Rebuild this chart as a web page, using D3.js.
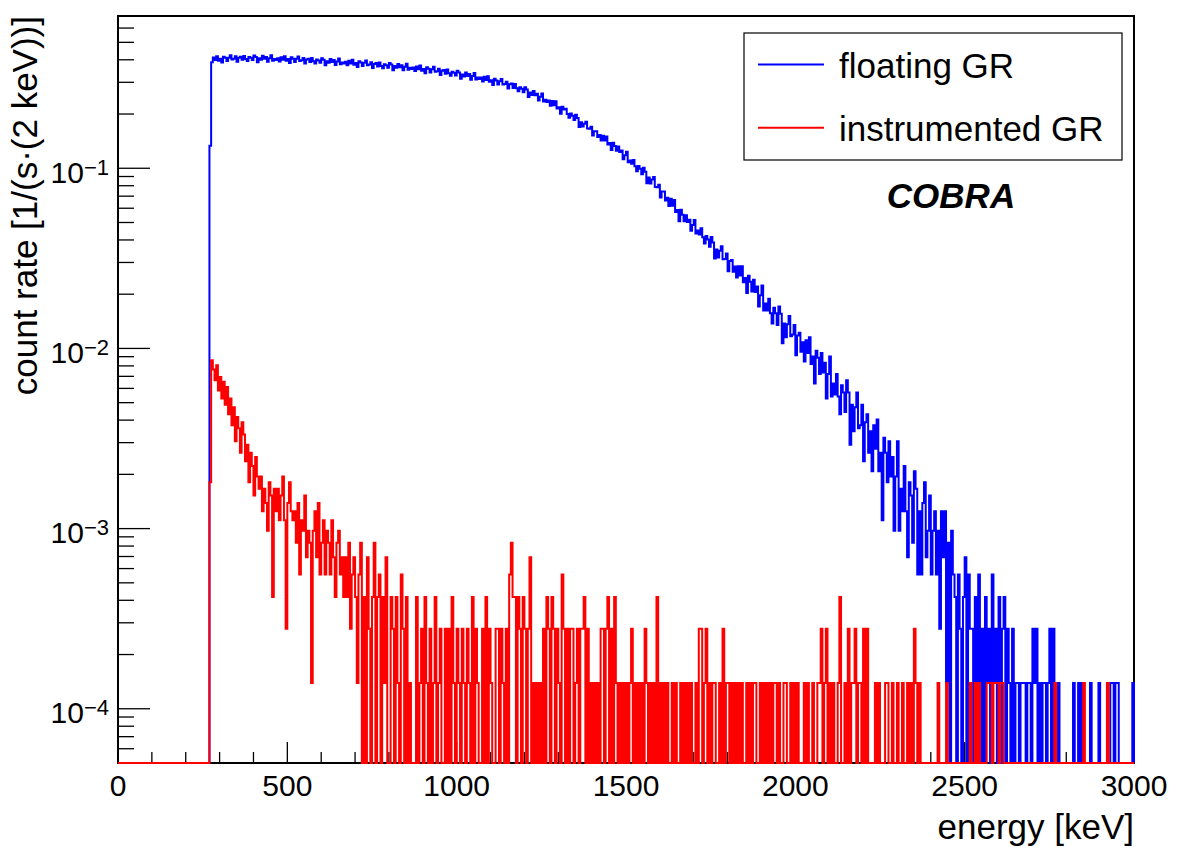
<!DOCTYPE html>
<html>
<head>
<meta charset="utf-8">
<script src="https://cdn.jsdelivr.net/npm/d3@7"></script>
<style>
  html, body { margin: 0; padding: 0; background: #ffffff; }
  svg { display: block; }
  text { font-family: "Liberation Sans", Arial, Helvetica, sans-serif; fill: #000; }
</style>
</head>
<body>
<svg id="chart" width="1182" height="848"></svg>
<script>
// ---------------- data ----------------
const energyStart = 270;   // keV, low edge of the first filled bin
const binWidth = 5;        // keV per drawn bin
const exposure = 7200;     // s; rate per 2 keV = counts / exposure

// counts per 2 keV bin, one value per 5 keV step starting at 270 keV (rows = 50 keV)
const floatingGR = [
  960, 2794, 2964, 2876, 3018, 2847, 2915, 2781, 2997, 2955,
  2838, 2959, 3052, 2887, 2916, 3009, 2812, 2960, 2997, 2879,
  3027, 2907, 2834, 2980, 2952, 2869, 3042, 2986, 2793, 2939,
  2883, 3028, 2918, 2985, 2809, 2935, 3053, 2841, 2913, 2874,
  2937, 2815, 2979, 2882, 3016, 2843, 2905, 2761, 2971, 2923,
  2800, 2917, 3006, 2837, 2862, 2951, 2745, 2890, 2923, 2801,
  2945, 2823, 2746, 2889, 2857, 2772, 2941, 2884, 2689, 2831,
  2773, 2913, 2801, 2869, 2694, 2816, 2929, 2718, 2786, 2746,
  2805, 2684, 2842, 2748, 2879, 2704, 2763, 2624, 2827, 2778,
  2658, 2769, 2854, 2688, 2711, 2795, 2595, 2733, 2764, 2644,
  2780, 2661, 2585, 2721, 2690, 2605, 2768, 2710, 2520, 2656,
  2598, 2733, 2622, 2687, 2516, 2632, 2740, 2534, 2598, 2558,
  2613, 2495, 2644, 2552, 2675, 2505, 2560, 2425, 2616, 2567,
  2450, 2554, 2632, 2472, 2490, 2569, 2374, 2504, 2531, 2413,
  2540, 2422, 2347, 2472, 2439, 2354, 2506, 2446, 2262, 2387,
  2329, 2451, 2343, 2399, 2234, 2339, 2436, 2238, 2294, 2252,
  2299, 2184, 2318, 2227, 2337, 2174, 2220, 2089, 2263, 2212,
  2099, 2187, 2253, 2100, 2111, 2176, 1993, 2104, 2124, 2009,
  2116, 2002, 1924, 2028, 1988, 1903, 2029, 1967, 1792, 1896,
  1835, 1932, 1828, 1867, 1713, 1795, 1871, 1688, 1727, 1680,
  1709, 1600, 1701, 1612, 1693, 1543, 1570, 1447, 1582, 1527,
  1541, 1441, 1371, 1448, 1408, 1332, 1427, 1370, 1221, 1297,
  1227, 1272, 1303, 1195, 1192, 1222, 1096, 1156, 1157, 1075,
  1101, 1025, 1090, 1028, 1080, 977, 993, 908, 996, 956,
  901, 951, 886, 903, 809, 850, 888, 777, 794, 762,
  801, 738, 693, 740, 715, 666, 725, 688, 594, 640,
  592, 623, 643, 567, 564, 584, 495, 535, 535, 477,
  494, 444, 487, 446, 480, 412, 422, 366, 424, 398,
  366, 395, 362, 373, 324, 349, 372, 313, 325, 309,
  334, 298, 275, 303, 290, 264, 299, 279, 227, 255,
  230, 251, 266, 225, 226, 242, 193, 220, 223, 192,
  205, 178, 206, 183, 206, 168, 177, 146, 182, 169,
  149, 173, 148, 159, 123, 142, 161, 117, 128, 117,
  136, 113, 99, 121, 113, 97, 123, 112, 77, 99,
  83, 98, 109, 84, 86, 97, 66, 85, 88, 69,
  78, 61, 80, 68, 83, 59, 65, 46, 70, 64,
  52, 68, 53, 60, 38, 52, 65, 39, 46, 40,
  52, 39, 31, 45, 41, 32, 48, 41, 21, 35,
  25, 34, 41, 26, 27, 35, 17, 28, 31, 19,
  25, 15, 27, 20, 29, 15, 19, 8, 23, 19,
  13, 22, 14, 18, 7, 14, 22, 7, 12, 9,
  16, 9, 5, 13, 11, 6, 15, 12, 4, 9,
  4, 10, 13, 5, 7, 11, 4, 7, 9, 4,
  7, 2, 9, 5, 9, 1, 6, 0, 7, 4,
  3, 0, 4, 2, 0, 3, 5, 0, 4, 2,
  2, 0, 3, 1, 4, 0, 2, 0, 3, 1,
  2, 0, 4, 1, 2, 0, 3, 0, 2, 3,
  0, 2, 1, 0, 2, 0, 1, 1, 0, 1,
  1, 1, 0, 1, 1, 0, 2, 1, 2, 0,
  1, 0, 1, 1, 0, 1, 2, 0, 2, 0,
  0, 1, 0, 0, 0, 0, 0, 0, 0, 0,
  1, 0, 0, 1, 0, 1, 0, 0, 0, 0,
  1, 0, 0, 0, 0, 1, 0, 0, 0, 0,
  0, 0, 1, 1, 0, 1, 1, 0, 0, 0,
  0, 0, 0, 0, 0, 1
];

const instrumentedGR = [
  13, 62, 55, 48, 58, 42, 50, 38, 47, 35,
  44, 31, 38, 27, 34, 22, 30, 26, 19, 28,
  24, 17, 21, 13, 19, 16, 11, 18, 14, 12,
  14, 9, 12, 10, 7, 13, 11, 3, 12, 9,
  12, 8, 11, 14, 8, 2, 10, 13, 9, 8,
  9, 6, 10, 4, 8, 7, 11, 5, 7, 6,
  1, 7, 9, 5, 10, 4, 6, 8, 4, 7,
  6, 4, 8, 5, 3, 6, 7, 4, 5, 3,
  5, 3, 6, 2, 4, 5, 3, 1, 4, 6,
  0, 3, 0, 5, 2, 0, 3, 6, 0, 3,
  4, 0, 3, 1, 5, 0, 0, 3, 2, 0,
  3, 1, 0, 4, 2, 0, 3, 0, 1, 0,
  0, 0, 3, 0, 1, 2, 0, 3, 1, 0,
  2, 0, 1, 3, 0, 1, 2, 0, 0, 2,
  0, 2, 0, 3, 1, 0, 2, 1, 0, 2,
  1, 0, 2, 1, 0, 3, 0, 2, 1, 0,
  0, 2, 0, 3, 0, 2, 1, 0, 0, 2,
  2, 0, 2, 1, 0, 2, 0, 4, 6, 3,
  3, 0, 3, 2, 0, 3, 2, 0, 2, 5,
  0, 1, 0, 1, 0, 1, 0, 2, 0, 3,
  2, 0, 3, 2, 0, 2, 1, 0, 4, 2,
  0, 2, 0, 2, 2, 0, 1, 2, 0, 2,
  2, 3, 0, 2, 0, 1, 0, 1, 0, 1,
  0, 2, 2, 0, 2, 3, 0, 2, 0, 3,
  1, 0, 1, 0, 1, 0, 1, 0, 1, 2,
  0, 1, 0, 1, 0, 1, 0, 2, 1, 0,
  1, 0, 1, 0, 3, 0, 1, 0, 1, 0,
  1, 0, 0, 1, 0, 1, 0, 0, 1, 0,
  1, 0, 1, 0, 1, 0, 0, 1, 0, 2,
  2, 0, 1, 2, 0, 1, 0, 1, 1, 0,
  0, 1, 0, 2, 0, 1, 1, 0, 1, 0,
  1, 0, 1, 0, 1, 0, 0, 1, 0, 1,
  0, 1, 1, 0, 0, 1, 0, 1, 0, 1,
  0, 1, 0, 1, 1, 0, 1, 0, 0, 1,
  1, 0, 0, 1, 0, 1, 0, 1, 0, 0,
  0, 1, 0, 1, 0, 0, 1, 0, 0, 1,
  1, 2, 0, 1, 2, 0, 1, 0, 1, 0,
  0, 1, 3, 0, 0, 1, 0, 2, 0, 1,
  1, 2, 0, 1, 1, 0, 2, 0, 2, 0,
  0, 0, 0, 1, 0, 1, 0, 0, 0, 1,
  1, 0, 0, 1, 0, 0, 1, 0, 0, 1,
  0, 0, 1, 0, 1, 0, 2, 1, 0, 1,
  0, 0, 0, 0, 0, 0, 0, 0, 0, 0,
  1, 0, 0, 0, 0, 1, 0, 0, 0, 0,
  0, 0, 0, 0, 0, 0, 0, 0, 0, 1,
  0, 0, 1, 0, 1, 0, 0, 0, 0, 1,
  1, 1, 0, 1, 1, 1, 0, 1, 1, 0,
  0, 0, 0, 0, 0, 0, 0, 0, 0, 0,
  0, 0, 0, 0, 0, 0, 0, 0, 0, 0,
  0, 0, 0, 0, 0, 0, 0, 0, 0, 1,
  0, 0, 0, 0, 0, 0, 0, 0, 0, 0,
  0, 0, 0, 0, 0, 0, 1, 0, 0, 0,
  0, 0, 0, 0, 0, 0, 0, 0, 0, 0,
  1, 0, 0, 0, 0, 0, 0, 0, 0, 0,
  0, 0, 0, 0, 0, 0
];

const xTickValues = [0, 500, 1000, 1500, 2000, 2500, 3000];
const yDecades = [-1, -2, -3, -4];
const legendLabels = ["floating GR", "instrumented GR"];
const xTitle = "energy [keV]";
const yTitle = "count rate [1/(s\u00B7(2 keV))]";
const tagText = "COBRA";

// ---------------- drawing ----------------
const L = 118, R = 1134, T = 16, B = 763;
const svg = d3.select("#chart");

const x = d3.scaleLinear().domain([0, 3000]).range([L, R]);
const y = d3.scaleLog().domain([5e-5, 0.7]).range([B, T]);

// frame
svg.append("rect")
  .attr("x", L).attr("y", T).attr("width", R - L).attr("height", B - T)
  .attr("fill", "none").attr("stroke", "#000").attr("stroke-width", 2);

// x ticks (major every 500, minor every 100), pointing up into the frame
const xMinorVals = d3.range(0, 3001, 100);
svg.append("g").selectAll("line").data(xMinorVals).join("line")
  .attr("x1", d => x(d)).attr("x2", d => x(d))
  .attr("y1", B).attr("y2", d => B - (xTickValues.includes(d) ? 21 : 11))
  .attr("stroke", "#000").attr("stroke-width", 1.3);

svg.append("g").selectAll("text").data(xTickValues).join("text")
  .attr("x", d => x(d)).attr("y", 796)
  .attr("text-anchor", "middle").attr("font-size", 30)
  .text(d => d);

// y ticks (log)
const yTickVals = [];
for (let e = -5; e <= 0; e++) {
  for (let k = 1; k < 10; k++) {
    const v = k * Math.pow(10, e);
    if (v >= 5e-5 * 1.0001 && v <= 0.7 * 0.9999) yTickVals.push({ v, major: k === 1 });
  }
}
svg.append("g").selectAll("line").data(yTickVals).join("line")
  .attr("x1", L).attr("x2", d => L + (d.major ? 32 : 16))
  .attr("y1", d => y(d.v)).attr("y2", d => y(d.v))
  .attr("stroke", "#000").attr("stroke-width", 1.3);

const yLab = svg.append("g").selectAll("text").data(yDecades).join("text")
  .attr("x", 109).attr("y", d => y(Math.pow(10, d)) + 14.5)
  .attr("text-anchor", "end").attr("font-size", 30);
yLab.append("tspan").text("10");
yLab.append("tspan").attr("dy", -8).attr("font-size", 22).text(d => "\u2212" + Math.abs(d));

// histograms
const line = d3.line()
  .x(d => x(d[0]))
  .y(d => (d[1] > 0 ? y(d[1] / exposure) : B))
  .curve(d3.curveStepAfter);

function stepPoints(counts) {
  const end = energyStart + counts.length * binWidth;
  const pts = [[0, 0]];
  counts.forEach((c, i) => pts.push([energyStart + i * binWidth, c]));
  pts.push([end, counts[counts.length - 1]]);
  pts.push([end, 0]);
  return pts;
}

svg.append("path").datum(stepPoints(floatingGR))
  .attr("d", line).attr("fill", "none")
  .attr("stroke", "#0000ff").attr("stroke-width", 2).attr("stroke-linejoin", "miter");

svg.append("path").datum(stepPoints(instrumentedGR))
  .attr("d", line).attr("fill", "none")
  .attr("stroke", "#ff0000").attr("stroke-width", 2).attr("stroke-linejoin", "miter");

// axis titles
svg.append("text")
  .attr("x", R).attr("y", 839).attr("text-anchor", "end").attr("font-size", 35)
  .text(xTitle);

svg.append("text")
  .attr("transform", `translate(37,${T}) rotate(-90)`)
  .attr("text-anchor", "end").attr("font-size", 35)
  .text(yTitle);

// legend
const leg = svg.append("g");
leg.append("rect").attr("x", 744).attr("y", 33).attr("width", 378).attr("height", 127)
  .attr("fill", "#fff").attr("stroke", "#000").attr("stroke-width", 1.2);
const legColors = ["#0000ff", "#ff0000"];
const legRows = leg.selectAll("g").data(legendLabels).join("g")
  .attr("transform", (d, i) => `translate(0,${64.5 + i * 63.3})`);
legRows.append("line").attr("x1", 758).attr("x2", 824).attr("y1", 0).attr("y2", 0)
  .attr("stroke", (d, i) => legColors[i]).attr("stroke-width", 2);
legRows.append("text").attr("x", 839).attr("y", 13.5).attr("font-size", 35).text(d => d);

// COBRA tag
svg.append("text").attr("x", 951).attr("y", 208).attr("text-anchor", "middle")
  .attr("font-size", 35).attr("font-weight", "bold").attr("font-style", "italic")
  .text(tagText);
</script>
</body>
</html>
